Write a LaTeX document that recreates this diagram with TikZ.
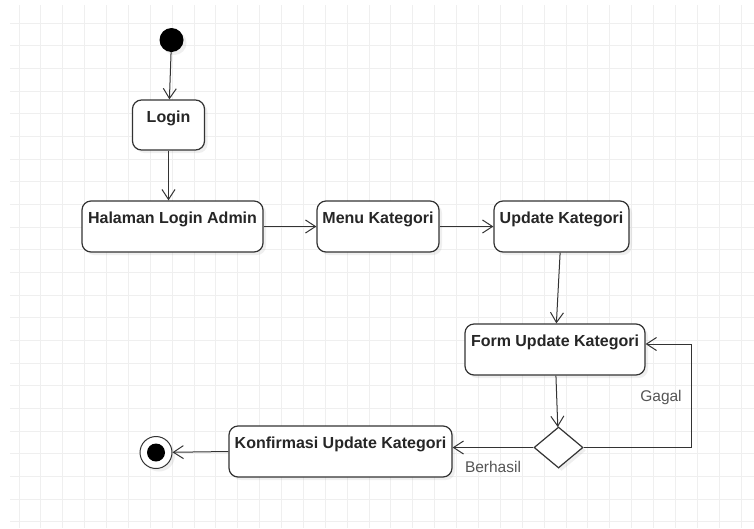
\documentclass[tikz,border=0pt]{standalone}
\usepackage{fontspec}
\setmainfont{Liberation Sans}
\usetikzlibrary{arrows.meta,shapes.geometric,shadows}
\definecolor{gridc}{HTML}{EFEFEF}
\definecolor{ink}{HTML}{333333}
\definecolor{lbl}{HTML}{555555}
\begin{document}
\begin{tikzpicture}[x=1pt,y=-1pt,
  softshadow/.style={drop shadow={opacity=0.12,shadow xshift=3pt,shadow yshift=-3pt}},
  act/.style={draw=ink, line width=1.2pt, rounded corners=9pt, fill=white, softshadow,
    inner sep=0pt, text height=22pt, text depth=29pt,
    font=\bfseries\fontsize{16}{18}\selectfont, text=black!85},
  flow/.style={draw=ink, line width=1pt, -{Straight Barb[length=10pt,width=13pt]}},
  gridline/.style={draw=gridc, line width=1pt},
  guard/.style={font=\fontsize{15.5}{18}\selectfont, text=lbl}]

% canvas and background grid
\fill[white] (0,0) rectangle (754,528);
\useasboundingbox (0,0) rectangle (754,528);
\foreach \k in {0,...,33} \draw[gridline] ({19+21.88*\k},5) -- ({19+21.88*\k},528);
\foreach \k in {0,...,22} \draw[gridline] (10,{23+22.68*\k}) -- (754,{23+22.68*\k});

% start and end states
\node[circle, fill=black, minimum size=24pt, inner sep=0pt, softshadow] (init) at (171.5,40) {};
\node[circle, draw=ink, line width=1pt, fill=white, minimum size=32pt, inner sep=0pt, softshadow] (final) at (156,452.5) {};
\node[circle, fill=black, minimum size=18pt, inner sep=0pt] (finaldot) at (final) {};

% activities
\node[act, minimum width=72pt, text depth=28pt] (login) at (168.5,125) {Login};
\node[act, minimum width=181pt] (halaman) at (172.5,226.5) {Halaman Login Admin};
\node[act, minimum width=122pt] (menu) at (378,226.5) {Menu Kategori};
\node[act, minimum width=135pt] (update) at (561.5,226.5) {Update Kategori};
\node[act, minimum width=180pt] (form) at (555,349.5) {Form Update Kategori};
\node[act, minimum width=223pt] (konf) at (340.5,451.5) {Konfirmasi Update Kategori};

% decision
\node[diamond, draw=ink, line width=1.2pt, fill=white, softshadow, inner sep=0pt,
  minimum width=49pt, minimum height=41pt] (dec) at (558.5,447.5) {};

% flows
\draw[flow] (init) -- (login);
\draw[flow] (login.south) -- (login.south |- halaman.north);
\draw[flow] (halaman) -- (menu);
\draw[flow] (menu) -- (update);
\draw[flow] (update) -- (form);
\draw[flow] (form) -- (dec);
\draw[flow] (dec.west) -- (dec.west -| konf.east);
\draw[flow] (konf.west) -- (final);
\coordinate (back) at (691,344);
\draw[flow] (dec.east) -- (dec.east -| back) -- (back) -- (back -| form.east);

% guard labels
\node[guard] (ok) at (493,467) {Berhasil};
\node[guard] (fail) at (661,397) {Gagal};
\end{tikzpicture}
\end{document}
